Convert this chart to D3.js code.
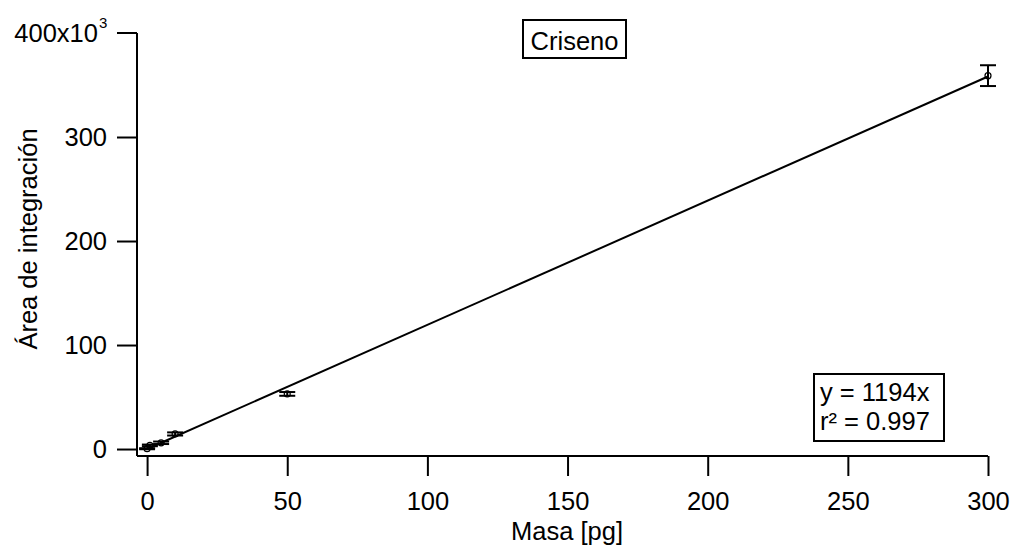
<!DOCTYPE html>
<html>
<head>
<meta charset="utf-8">
<script src="https://cdn.jsdelivr.net/npm/d3@7"></script>
<style>
  body { margin: 0; background: #fff; }
  text { font-family: "Liberation Sans", Arial, sans-serif; fill: #000; }
</style>
</head>
<body>
<div id="chart"></div>
<script>
// data
const masa = [0, 1, 5, 10, 50, 300];
const area = [300, 3500, 6000, 14500, 53000, 359000];
const errArea = [500, 800, 1200, 1500, 1800, 10000];
const xTicks = [0, 50, 100, 150, 200, 250, 300];
const yTicks = [0, 100000, 200000, 300000, 400000];
const slope = 1194;
const r2 = 0.997;

const fs = 25.5;
const width = 1013, height = 550;
const svg = d3.select('#chart').append('svg')
    .attr('width', width)
    .attr('height', height);

const x = d3.scaleLinear().domain([-3.6, 300]).range([137, 988]);
const y = d3.scaleLinear().domain([-6700, 400000]).range([456, 33]);

// axes
const xAxis = svg.append('g')
    .attr('transform', `translate(0,${y.range()[0]})`)
    .call(d3.axisBottom(x).tickValues(xTicks).tickSize(20).tickSizeOuter(0).tickPadding(16));
const yAxis = svg.append('g')
    .attr('transform', `translate(${x.range()[0]},0)`)
    .call(d3.axisLeft(y).tickValues(yTicks.slice(0, -1)).tickFormat(d => d / 1000).tickSize(20).tickSizeOuter(0).tickPadding(10));

[xAxis, yAxis].forEach(a => {
    a.attr('font-size', fs).attr('font-family', '"Liberation Sans", Arial, sans-serif');
    a.select('.domain').attr('stroke-width', 2);
    a.selectAll('.tick line').attr('stroke-width', 2);
});
xAxis.select('.domain').attr('d', `M${x.range()[0]},0H${x.range()[1]}`);
yAxis.select('.domain').attr('d', `M0,${y.range()[0]}V${y(400000)}`);

// top tick with 10^3 label
yAxis.append('line')
    .attr('x1', -20).attr('x2', 0)
    .attr('y1', y(400000)).attr('y2', y(400000))
    .attr('stroke', '#000').attr('stroke-width', 2);
svg.append('text')
    .attr('x', 98).attr('y', 42)
    .attr('text-anchor', 'end')
    .attr('font-size', fs)
    .text('400x10');
svg.append('text')
    .attr('x', 99).attr('y', 28)
    .attr('font-size', 15)
    .text('3');

// axis titles
svg.append('text')
    .attr('x', 567).attr('y', 540)
    .attr('text-anchor', 'middle')
    .attr('font-size', fs)
    .text('Masa [pg]');
svg.append('text')
    .attr('transform', `translate(37,239) rotate(-90)`)
    .attr('text-anchor', 'middle')
    .attr('font-size', fs)
    .text('Área de integración');

// fit line
svg.append('line')
    .attr('x1', x(0)).attr('y1', y(0))
    .attr('x2', x(300)).attr('y2', y(slope * 300))
    .attr('stroke', '#000').attr('stroke-width', 2);

// error bars
const pts = masa.map((m, i) => ({m: m, a: area[i], e: errArea[i]}));
const eb = svg.append('g').attr('stroke', '#000').attr('stroke-width', 2);
eb.selectAll('.bar').data(pts).join('line')
    .attr('x1', d => x(d.m)).attr('x2', d => x(d.m))
    .attr('y1', d => y(d.a - d.e)).attr('y2', d => y(d.a + d.e));
eb.selectAll('.capTop').data(pts).join('line')
    .attr('x1', d => x(d.m) - 8).attr('x2', d => x(d.m) + 8)
    .attr('y1', d => y(d.a + d.e)).attr('y2', d => y(d.a + d.e));
eb.selectAll('.capBot').data(pts).join('line')
    .attr('x1', d => x(d.m) - 8).attr('x2', d => x(d.m) + 8)
    .attr('y1', d => y(d.a - d.e)).attr('y2', d => y(d.a - d.e));

// markers
svg.append('g').selectAll('circle').data(pts).join('circle')
    .attr('cx', d => x(d.m)).attr('cy', d => y(d.a))
    .attr('r', 3)
    .attr('fill', 'none')
    .attr('stroke', '#000')
    .attr('stroke-width', 1.2);

// title box
svg.append('rect')
    .attr('x', 523).attr('y', 20).attr('width', 103).attr('height', 38)
    .attr('fill', '#fff').attr('stroke', '#000').attr('stroke-width', 2);
svg.append('text')
    .attr('x', 574.5).attr('y', 50)
    .attr('text-anchor', 'middle')
    .attr('font-size', fs)
    .text('Criseno');

// fit legend box
svg.append('rect')
    .attr('x', 814).attr('y', 374).attr('width', 130).attr('height', 67)
    .attr('fill', '#fff').attr('stroke', '#000').attr('stroke-width', 2);
svg.append('text')
    .attr('x', 820).attr('y', 401)
    .attr('font-size', fs)
    .text(`y = ${slope}x`);
svg.append('text')
    .attr('x', 820).attr('y', 430)
    .attr('font-size', fs)
    .text(`r² = ${r2}`);
</script>
</body>
</html>
